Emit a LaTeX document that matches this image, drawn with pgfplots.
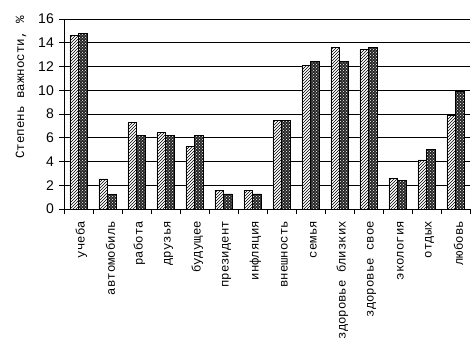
\documentclass[border=0pt]{standalone}
\usepackage{fontspec}
\setmainfont{Liberation Mono}
\setsansfont{Liberation Sans}
\usepackage{pgfplots}
\pgfplotsset{compat=1.18}
\usetikzlibrary{patterns}
\begin{document}
\begin{tikzpicture}
\begin{axis}[
  at={(0,0)}, anchor=south west,
  scale only axis, width=406pt, height=190pt,
  xmin=-0.5, xmax=13.5, ymin=0, ymax=16,
  ybar=0pt, bar width=8.5pt,
  axis x line*=bottom, axis y line*=left,
  axis line style={black, line width=0.8pt},
  ytick={0,2,...,16},
  ymajorgrids, grid style={black, line width=0.8pt},
  xtick={0,...,13},
  xticklabels={учеба,автомобиль,работа,друзья,будущее,президент,инфляция,внешность,семья,здоровье близких,здоровье свое,экология,отдых,любовь},
  minor xtick={-0.5,0.5,...,13.5},
  tick align=outside, major tick length=5pt, minor tick length=5pt,
  major x tick style={draw=none},
  tick style={black, line width=0.8pt},
  xticklabel style={rotate=90, anchor=east, font=\fontsize{12.3}{12.3}\selectfont, inner sep=2pt, yshift=-3pt, xshift=-5pt},
  yticklabel style={font=\sffamily\fontsize{14}{14}\selectfont, inner sep=2pt, xshift=-3pt},
  /pgf/number format/assume math mode=true,
  ylabel={Степень важности, \%},
  ylabel style={at={(axis description cs:-0.106,0.64)}, anchor=center, rotate=0, font=\fontsize{12.5}{12.5}\selectfont},
]
\addplot[fill=white, draw=black, line width=0.8pt, postaction={pattern=north east lines}] coordinates {
 (0,14.6) (1,2.53) (2,7.26) (3,6.41) (4,5.23) (5,1.6) (6,1.6)
 (7,7.42) (8,12.07) (9,13.59) (10,13.42) (11,2.61) (12,4.13) (13,7.85)};
\addplot[fill=black!85, draw=black, line width=0.8pt, postaction={pattern=crosshatch dots, pattern color=white}] coordinates {
 (0,14.82) (1,1.26) (2,6.19) (3,6.19) (4,6.19) (5,1.27) (6,1.27)
 (7,7.42) (8,12.4) (9,12.4) (10,13.59) (11,2.44) (12,4.98) (13,9.87)};
\end{axis}
\pgfresetboundingbox
\path[use as bounding box] (-64pt,-148pt) rectangle (411pt,209pt);
\end{tikzpicture}
\end{document}
